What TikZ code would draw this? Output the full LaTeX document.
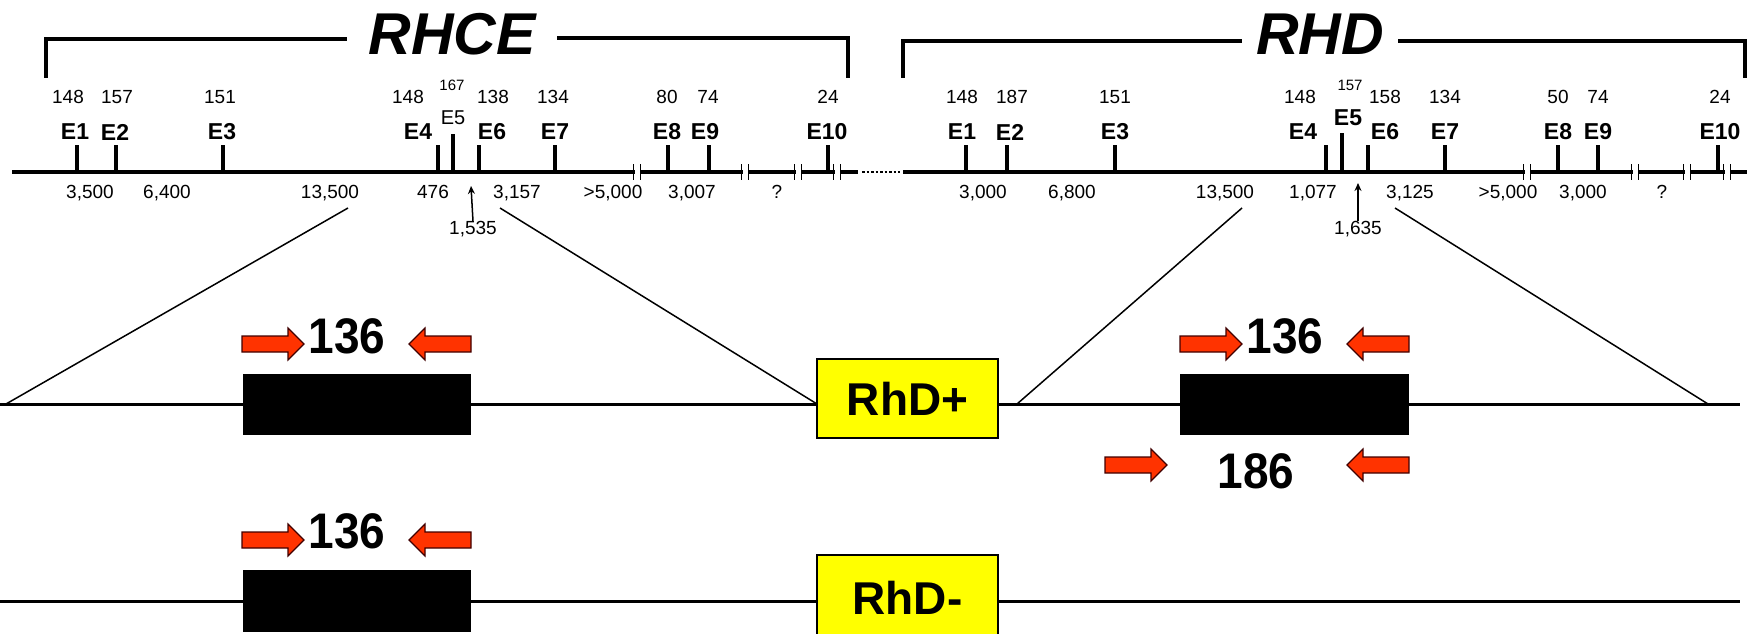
\documentclass[tikz,border=0pt]{standalone}
\usepackage{fontspec}
\setmainfont{Liberation Sans}
\usetikzlibrary{arrows.meta}
\definecolor{primered}{HTML}{FF3300}
\definecolor{boxyellow}{HTML}{FFFF00}
\begin{document}
\begin{tikzpicture}[x=1pt,y=-1pt,
  num/.style={font=\fontsize{19}{19}\selectfont, inner sep=0pt, text depth=0pt},
  smallnum/.style={font=\fontsize{15}{15}\selectfont, inner sep=0pt, text depth=0pt},
  exlab/.style={font=\fontsize{23}{23}\selectfont\bfseries, inner sep=0pt},
  genename/.style={font=\fontsize{59}{59}\selectfont\bfseries\itshape, inner sep=0pt},
  bigtxt/.style={font=\fontsize{50}{50}\selectfont\bfseries, inner sep=0pt},
  rhbox/.style={draw=black, line width=2.5, fill=boxyellow, minimum width=181, minimum height=79,
     inner sep=0pt, font=\fontsize{46}{46}\selectfont\bfseries},
  exonbox/.style={fill=black},
  bracket/.style={line width=3.5},
  baseline/.style={line width=4.5},
  tick/.style={line width=3.5},
  gline/.style={line width=3},
  zoomline/.style={line width=1.5},
  uparrow/.style={line width=1.5, -{Stealth[length=8,width=7]}},
  primer/.style={fill=primered, draw=black!75!red, line width=1.2, line join=miter},
  fwd/.pic={\path[primer] (0,-8) -- (46,-8) -- (46,-16) -- (62,0) -- (46,16) -- (46,8) -- (0,8) -- cycle;},
  rev/.pic={\path[primer] (0,0) -- (16,-16) -- (16,-8) -- (62,-8) -- (62,8) -- (16,8) -- (16,16) -- cycle;}
]
\clip (0,0) rectangle (1759,634);
\useasboundingbox (0,0) rectangle (1759,634);

% ---------- gene names and brackets ----------
\node[genename] (rhce) at (452,34) {RHCE};
\node[genename] (rhd) at (1320,34) {RHD};
\draw[bracket] (46,78) -- (46,39) -- (347,39);
\draw[bracket] (557,38) -- (848,38) -- (848,78);
\draw[bracket] (903,78) -- (903,41) -- (1242,41);
\draw[bracket] (1398,41) -- (1745,41) -- (1745,78);

% ---------- genomic baselines ----------
\draw[baseline] (12,172) -- (858,172);
\draw[line width=2.5, dotted] (862,172) -- (900,172);
\draw[baseline] (903,172) -- (1747,172);

% break marks
\foreach \x in {637,745,798,837,1527,1635,1687,1727}{
  \fill[white] (\x-2.5,165) rectangle (\x+2.5,179);
  \draw[line width=1.5] (\x-3.5,164) -- (\x-3.5,180) (\x+3.5,164) -- (\x+3.5,180);
}

% ---------- RHCE exons ----------
\foreach \tx/\lx/\nx/\nt/\lt in {77/75/68/148/E1, 116/115/117/157/E2, 223/222/220/151/E3,
   438/418/408/148/E4, 479/492/493/138/E6, 555/555/553/134/E7, 668/667/667/80/E8,
   709/705/708/74/E9, 828/827/828/24/E10}{
  \draw[tick] (\tx,145) -- (\tx,172);
  \node[exlab] at (\lx,132) {\lt};
  \node[num] at (\nx,97) {\nt};
}
\draw[tick] (453,134) -- (453,172);
\node[font=\fontsize{20}{20}\selectfont, inner sep=0pt] at (453,118) {E5};
\node[smallnum] at (452,85) {167};

% ---------- RHD exons ----------
\foreach \tx/\lx/\nx/\nt/\lt in {966/962/962/148/E1, 1007/1010/1012/187/E2, 1115/1115/1115/151/E3,
   1326/1303/1300/148/E4, 1368/1385/1385/158/E6, 1445/1445/1445/134/E7, 1558/1558/1558/50/E8,
   1598/1598/1598/74/E9, 1718/1720/1720/24/E10}{
  \draw[tick] (\tx,145) -- (\tx,172);
  \node[exlab] at (\lx,132) {\lt};
  \node[num] at (\nx,97) {\nt};
}
\draw[tick] (1342,133) -- (1342,172);
\node[exlab] at (1348,118) {E5};
\node[smallnum] at (1350,85) {157};

% ---------- intron sizes ----------
\foreach \x/\t in {90/{3,500}, 167/{6,400}, 330/{13,500}, 433/{476}, 517/{3,157},
   613/{>5,000}, 692/{3,007}, 777/{?},
   983/{3,000}, 1072/{6,800}, 1225/{13,500}, 1313/{1,077}, 1410/{3,125},
   1508/{>5,000}, 1583/{3,000}, 1662/{?}}{
  \node[num] at (\x,192) {\t};
}
\node[num] (i1) at (473,228) {1,535};
\coordinate (i1t) at (471,186);
\draw[uparrow] (i1.north) -- (i1t);
\node[num] (i2) at (1358,228) {1,635};
\coordinate (i2t) at (1358,183);
\draw[uparrow] (i2.north) -- (i2t);

% ---------- RhD+ haplotype ----------
\draw[gline] (0,404) -- (1740,404);
\node[exonbox, minimum width=228, minimum height=61, inner sep=0pt] (b1) at (357,404.5) {};
\node[exonbox, minimum width=229, minimum height=61, inner sep=0pt] (b2) at (1294.5,404.5) {};
\node[rhbox] (rdp) at (907.5,398.5) {RhD+};

% zoom lines
\coordinate (z1) at (348,208);
\coordinate (z2) at (500,208);
\coordinate (z3) at (1242,208);
\coordinate (z4) at (1395,208);
\coordinate (e1) at (6,404);
\coordinate (e2) at (817,404);
\coordinate (e3) at (1017,404);
\coordinate (e4) at (1708,404);
\draw[zoomline] (z1) -- (e1);
\draw[zoomline] (z2) -- (e2);
\draw[zoomline] (z3) -- (e3);
\draw[zoomline] (z4) -- (e4);

% primers RhD+ row
\pic at (242,344) {fwd};
\pic at (409,344) {rev};
\node[bigtxt] (l1) at (347,336) {\scalebox{0.92}[1]{136}};
\pic at (1180,344) {fwd};
\pic at (1347,344) {rev};
\node[bigtxt] (l2) at (1285,336) {\scalebox{0.92}[1]{136}};
\pic at (1105,465) {fwd};
\pic at (1347,465) {rev};
\node[bigtxt] (l3) at (1256,471) {\scalebox{0.92}[1]{186}};

% ---------- RhD- haplotype ----------
\draw[gline] (0,601) -- (1740,601);
\node[exonbox, minimum width=228, minimum height=62, inner sep=0pt] (b3) at (357,601) {};
\node[rhbox, minimum height=92] (rdm) at (907.5,601) {\raisebox{6pt}{RhD-}};
\pic at (242,540) {fwd};
\pic at (409,540) {rev};
\node[bigtxt] (l4) at (347,531) {\scalebox{0.92}[1]{136}};
\end{tikzpicture}
\end{document}
